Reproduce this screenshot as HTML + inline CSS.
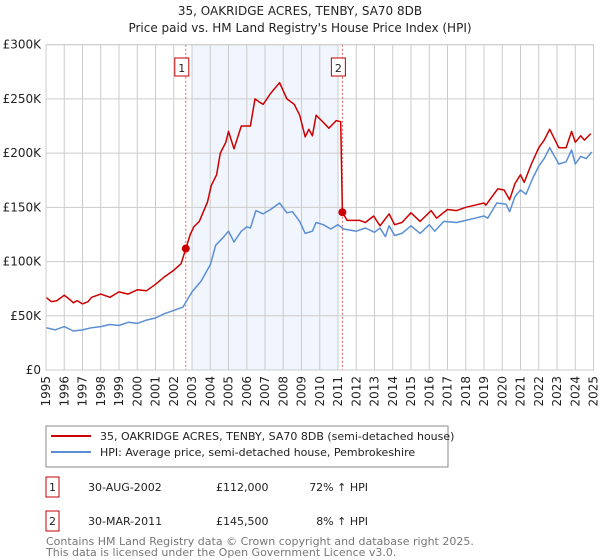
<!DOCTYPE html>
<html><head><meta charset="utf-8">
<style>
body{margin:0;background:#fff;font-family:"DejaVu Sans","Liberation Sans",sans-serif;}
#wrap{position:relative;width:600px;height:560px;overflow:hidden;}
svg text{font-family:"DejaVu Sans","Liberation Sans",sans-serif;}
</style></head>
<body><div id="wrap">
<svg id="chart" width="600" height="560"></svg>
</div>
<script>
const yTicks=[0,50000,100000,150000,200000,250000,300000];
const yTickLabels=["£0","£50K","£100K","£150K","£200K","£250K","£300K"];
const xYears=[1995,1996,1997,1998,1999,2000,2001,2002,2003,2004,2005,2006,2007,2008,2009,2010,2011,2012,2013,2014,2015,2016,2017,2018,2019,2020,2021,2022,2023,2024,2025];
const redT=[1995,1995.3,1995.6,1996,1996.3,1996.5,1996.7,1997,1997.3,1997.5,1998,1998.5,1999,1999.5,2000,2000.5,2001,2001.5,2002,2002.4,2002.66,2002.9,2003.1,2003.4,2003.85,2004.05,2004.35,2004.55,2004.85,2005.0,2005.3,2005.7,2006.2,2006.45,2006.7,2006.9,2007.3,2007.8,2008.2,2008.6,2008.9,2009.2,2009.4,2009.6,2009.8,2010.1,2010.5,2010.9,2011.15,2011.24,2011.5,2012.2,2012.5,2012.95,2013.3,2013.8,2014.1,2014.5,2015,2015.5,2016.1,2016.4,2017,2017.5,2018,2018.5,2019,2019.1,2019.75,2020.1,2020.4,2020.7,2021,2021.2,2021.6,2022,2022.3,2022.6,2023.1,2023.5,2023.8,2024,2024.3,2024.5,2024.85];
const redV=[67,63,64,69,65,62,64,61,63,67,70,67,72,70,74,73,79,86,92,98,112,125,132,137,155,170,180,200,210,220,204,225,225,250,247,245,255,265,250,245,235,215,222,216,235,230,223,230,229,145.5,138,138,136,142,133,144,134,136,145,137,147,140,148,147,150,152,154,152,167,166,157,172,180,173,190,205,212,222,205,205,220,210,216,212,218];
const blueT=[1995,1995.5,1996,1996.5,1997,1997.5,1998,1998.5,1999,1999.5,2000,2000.5,2001,2001.5,2002,2002.5,2003,2003.5,2004,2004.3,2004.7,2005,2005.3,2005.7,2006,2006.2,2006.5,2006.9,2007.3,2007.8,2008.2,2008.5,2008.9,2009.2,2009.6,2009.8,2010.2,2010.6,2011,2011.3,2012,2012.5,2013,2013.3,2013.6,2013.8,2014.1,2014.5,2015,2015.5,2016,2016.3,2016.8,2017.5,2018,2018.5,2019,2019.2,2019.7,2020.2,2020.4,2020.7,2021,2021.3,2021.7,2022,2022.3,2022.6,2023.1,2023.5,2023.8,2024,2024.3,2024.6,2024.9];
const blueV=[39,37,40,36,37,39,40,42,41,44,43,46,48,52,55,58,72,82,97,115,122,128,118,128,132,131,147,144,148,154,145,146,137,126,128,136,134,130,134,130,128,131,127,131,123,133,124,126,133,126,134,128,137,136,138,140,142,140,154,153,146,160,166,162,178,188,195,205,190,192,203,190,197,195,201];
const saleT=[2002.66,2011.24];
const saleV=[112000,145500];
const saleLabels=["1","2"];

const NS="http://www.w3.org/2000/svg";
const svg=document.getElementById('chart');
const X0=46,X1=593.5,Y0=370,Y1=44.7;
const xs=t=>X0+(t-1995)/30*(X1-X0);
const ys=v=>Y0-v/300000*(Y0-Y1);
function mk(tag,attrs,parent){const e=document.createElementNS(NS,tag);for(const k in attrs)e.setAttribute(k,attrs[k]);(parent||svg).appendChild(e);return e;}

let t=mk('text',{x:300,y:15,'text-anchor':'middle','font-size':12,fill:'#222'});t.textContent="35, OAKRIDGE ACRES, TENBY, SA70 8DB";


t=mk('text',{x:300,y:32,'text-anchor':'middle','font-size':12,fill:'#222'});t.textContent="Price paid vs. HM Land Registry's House Price Index (HPI)";



let sh=mk('rect',{x:xs(2003.0),y:Y1,width:xs(2011.0)-xs(2003.0),height:Y0-Y1,fill:'#eef3fc',opacity:0.8});



yTicks.forEach((v,i)=>{
 let l=mk('line',{x1:X0,x2:X1,y1:ys(v),y2:ys(v),stroke:'#cccccc','stroke-width':1});
 
 
 let tx=mk('text',{x:X0-5,y:ys(v)+4,'text-anchor':'end','font-size':12,fill:'#222'});
 tx.textContent=yTickLabels[i];
 
 
});
xYears.forEach(yr=>{
 let l=mk('line',{x1:xs(yr),x2:xs(yr),y1:Y1,y2:Y0,stroke:'#cccccc','stroke-width':1});
 
 
 let tx=mk('text',{x:0,y:0,'text-anchor':'end','font-size':12,fill:'#222',transform:`translate(${xs(yr)+4},${Y0+6}) rotate(-90)`});
 tx.textContent=yr;
 
 
});

saleT.forEach((s,i)=>{
 let l=mk('line',{x1:xs(s),x2:xs(s),y1:Y1,y2:Y0,stroke:'#e06060','stroke-width':1,'stroke-dasharray':'2,2'});
 
 
 let r=mk('rect',{x:xs(s)-11,y:58,width:14,height:18,fill:'#fff',stroke:'#c00000'});
 
 
 let tx=mk('text',{x:xs(s)-4,y:72,'text-anchor':'middle','font-size':11,fill:'#222'});
 tx.textContent=saleLabels[i];
 
 
});

function line(T,V,col,name){
 const d=T.map((tt,i)=>(i?'L':'M')+xs(tt).toFixed(1)+','+ys(V[i]*1000).toFixed(1)).join(' ');
 const p=mk('path',{d:d,fill:'none',stroke:col,'stroke-width':1.5,'stroke-linejoin':'round'});
 
 
}
line(blueT,blueV,'#5b8fd4','hpi-line');
line(redT,redV,'#cc0000','price-paid-line');
saleT.forEach((s,i)=>{
 let c=mk('circle',{cx:xs(s),cy:ys(saleV[i]),r:4,fill:'#cc0000'});
 
 
});
let ax=mk('rect',{x:X0,y:Y1,width:X1-X0,height:Y0-Y1,fill:'none',stroke:'#cccccc'});



// legend
let lg=mk('rect',{x:46,y:426,width:402,height:41,fill:'#fff',stroke:'#888'});


[['#cc0000','35, OAKRIDGE ACRES, TENBY, SA70 8DB (semi-detached house)',440],['#5b8fd4','HPI: Average price, semi-detached house, Pembrokeshire',456]].forEach(a=>{
 let l=mk('line',{x1:51,x2:91,y1:a[2]-4,y2:a[2]-4,stroke:a[0],'stroke-width':2});
 
 
 let tx=mk('text',{x:100,y:a[2],'font-size':11,fill:'#222'});tx.textContent=a[1];
 
 
});
// table
[['1','30-AUG-2002','£112,000','72% ↑ HPI',483],['2','30-MAR-2011','£145,500','8% ↑ HPI',517]].forEach(r=>{
 let b=mk('rect',{x:46,y:r[4]-6,width:13,height:20,fill:'#fff',stroke:'#c00000'});
 
 
 let vals=[[r[0],52.5,'middle'],[r[1],88,'start'],[r[2],216,'start'],[r[3],368,'end']];
 vals.forEach(v=>{let tx=mk('text',{x:v[1],y:r[4]+8,'font-size':11,fill:'#222','text-anchor':v[2]});tx.textContent=v[0];
 
 });
});
[['Contains HM Land Registry data © Crown copyright and database right 2025.',545],['This data is licensed under the Open Government Licence v3.0.',556]].forEach(a=>{
 let tx=mk('text',{x:46,y:a[1],'font-size':11,fill:'#777'});tx.textContent=a[0];
 
 
});
</script></body></html>
